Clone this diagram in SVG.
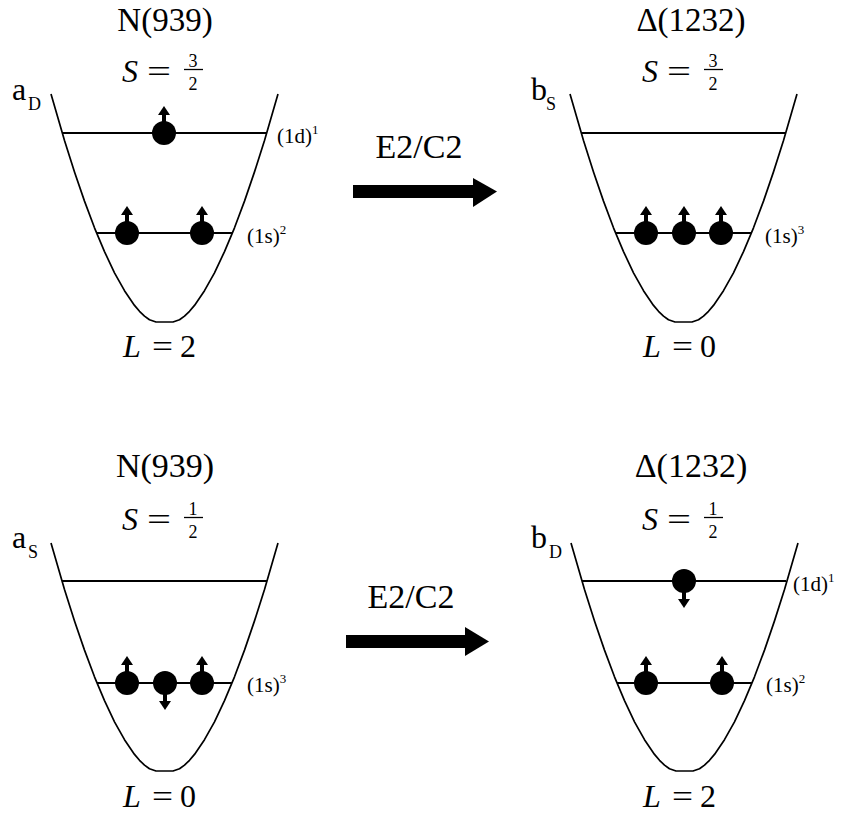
<svg xmlns="http://www.w3.org/2000/svg" xmlns:xlink="http://www.w3.org/1999/xlink" width="844" height="818" viewBox="0 0 844 818">
<style>
text{font-family:'Liberation Serif','DejaVu Serif',serif;fill:#000}
.h{font-size:34px;text-anchor:middle}
.hd{font-size:33px;text-anchor:middle}
.it{font-style:italic}
.big{font-size:32px}
.sub{font-size:18px}
.fr{font-size:18px;text-anchor:middle}
.lv{font-size:21px}
.sup{font-size:13px}
.bowl{fill:none;stroke:#000;stroke-width:1.7;stroke-linejoin:round}
.lvl{stroke:#000;stroke-width:2}
.fl{stroke:#000;stroke-width:1.3}
</style>
<defs>
<path id="bowl" class="bowl" d="M51,94 L64.5,140.5 L74.5,171.9 L84.5,201.1 L94.5,227.8 L104.5,251.6 L114.5,272.8 L124.5,290.7 L134.5,305.4 L139.5,311.3 L144.5,316.1 L149.5,319.7 L156,322 L173,322 L179.5,319.7 L184.5,316.1 L189.5,311.3 L194.5,305.4 L204.5,290.7 L214.5,272.8 L224.5,251.6 L234.5,227.8 L244.5,201.1 L254.5,171.9 L264.5,140.5 L278,94"/>
<g id="eup"><circle r="12"/><rect x="-2" y="-19" width="4" height="8"/><polygon points="-6,-18 6,-18 0,-27"/></g>
<g id="edown"><circle r="12"/><rect x="-2" y="11" width="4" height="8"/><polygon points="-6,18 6,18 0,27"/></g>
</defs>

<g id="node-N939-S32">
<text class="hd" x="165" y="31">N(939)</text>
<text class="it big" x="122" y="82">S</text>
<text class="big" x="147" y="82" textLength="24" lengthAdjust="spacingAndGlyphs">=</text>
<text class="fr" x="193" y="67">3</text>
<line class="fl" x1="184" y1="69.5" x2="203" y2="69.5"/>
<text class="fr" x="193" y="90">2</text>
<text class="big" x="12" y="100">a</text>
<text class="sub" x="28" y="110">D</text>
<use xlink:href="#bowl" href="#bowl"/>
<line class="lvl" x1="62" y1="133" x2="267" y2="133"/>
<line class="lvl" x1="97" y1="233" x2="232" y2="233"/>
<use xlink:href="#eup" href="#eup" x="164" y="133"/>
<use xlink:href="#eup" href="#eup" x="127" y="233"/>
<use xlink:href="#eup" href="#eup" x="202" y="233"/>
<text class="lv" x="277" y="143">(1d)<tspan class="sup" dy="-9">1</tspan></text>
<text class="lv" x="247" y="243">(1s)<tspan class="sup" dy="-9">2</tspan></text>
<text class="it big" x="123" y="357">L</text>
<text class="big" x="152" y="357" textLength="21" lengthAdjust="spacingAndGlyphs">=</text>
<text class="big" x="180" y="357">2</text>
</g>

<g id="node-D1232-S32">
<text class="hd" x="691" y="31">Δ(1232)</text>
<text class="it big" x="642" y="82">S</text>
<text class="big" x="667" y="82" textLength="24" lengthAdjust="spacingAndGlyphs">=</text>
<text class="fr" x="713" y="67">3</text>
<line class="fl" x1="704" y1="69.5" x2="723" y2="69.5"/>
<text class="fr" x="713" y="90">2</text>
<text class="big" x="531" y="100">b</text>
<text class="sub" x="546" y="110">S</text>
<use xlink:href="#bowl" href="#bowl" x="519" y="0"/>
<line class="lvl" x1="581" y1="133" x2="786" y2="133"/>
<line class="lvl" x1="616" y1="233" x2="751" y2="233"/>
<use xlink:href="#eup" href="#eup" x="646" y="233"/>
<use xlink:href="#eup" href="#eup" x="684" y="233"/>
<use xlink:href="#eup" href="#eup" x="721" y="233"/>
<text class="lv" x="765" y="243">(1s)<tspan class="sup" dy="-9">3</tspan></text>
<text class="it big" x="643" y="357">L</text>
<text class="big" x="672" y="357" textLength="21" lengthAdjust="spacingAndGlyphs">=</text>
<text class="big" x="700" y="357">0</text>
</g>

<g id="node-N939-S12">
<text class="h" x="165" y="477">N(939)</text>
<text class="it big" x="122" y="530">S</text>
<text class="big" x="147" y="530" textLength="24" lengthAdjust="spacingAndGlyphs">=</text>
<text class="fr" x="193" y="515">1</text>
<line class="fl" x1="184" y1="517.5" x2="203" y2="517.5"/>
<text class="fr" x="193" y="538">2</text>
<text class="big" x="12" y="548">a</text>
<text class="sub" x="28" y="558">S</text>
<use xlink:href="#bowl" href="#bowl" x="0" y="449"/>
<line class="lvl" x1="62" y1="581" x2="267" y2="581"/>
<line class="lvl" x1="97" y1="683" x2="232" y2="683"/>
<use xlink:href="#eup" href="#eup" x="127" y="683"/>
<use xlink:href="#edown" href="#edown" x="165" y="683"/>
<use xlink:href="#eup" href="#eup" x="202" y="683"/>
<text class="lv" x="247" y="692">(1s)<tspan class="sup" dy="-9">3</tspan></text>
<text class="it big" x="123" y="807">L</text>
<text class="big" x="152" y="807" textLength="21" lengthAdjust="spacingAndGlyphs">=</text>
<text class="big" x="180" y="807">0</text>
</g>

<g id="node-D1232-S12">
<text class="h" x="691" y="477">Δ(1232)</text>
<text class="it big" x="642" y="530">S</text>
<text class="big" x="667" y="530" textLength="24" lengthAdjust="spacingAndGlyphs">=</text>
<text class="fr" x="713" y="515">1</text>
<line class="fl" x1="704" y1="517.5" x2="723" y2="517.5"/>
<text class="fr" x="713" y="538">2</text>
<text class="big" x="531" y="548">b</text>
<text class="sub" x="549" y="558">D</text>
<use xlink:href="#bowl" href="#bowl" x="520" y="449"/>
<line class="lvl" x1="582" y1="581" x2="786" y2="581"/>
<line class="lvl" x1="617" y1="683" x2="752" y2="683"/>
<use xlink:href="#edown" href="#edown" x="684" y="581"/>
<use xlink:href="#eup" href="#eup" x="646" y="683"/>
<use xlink:href="#eup" href="#eup" x="722" y="683"/>
<text class="lv" x="793" y="591">(1d)<tspan class="sup" dy="-9">1</tspan></text>
<text class="lv" x="766" y="692">(1s)<tspan class="sup" dy="-9">2</tspan></text>
<text class="it big" x="643" y="807">L</text>
<text class="big" x="672" y="807" textLength="21" lengthAdjust="spacingAndGlyphs">=</text>
<text class="big" x="700" y="807">2</text>
</g>

<g id="connectors">
<rect x="353" y="185" width="121" height="13"/>
<polygon points="473,178 497,191.5 473,207"/>
<text class="h" x="419" y="158">E2/C2</text>
<rect x="346" y="635" width="120" height="13"/>
<polygon points="465,627 489,641.5 465,656"/>
<text class="h" x="411" y="608">E2/C2</text>
</g>
</svg>
